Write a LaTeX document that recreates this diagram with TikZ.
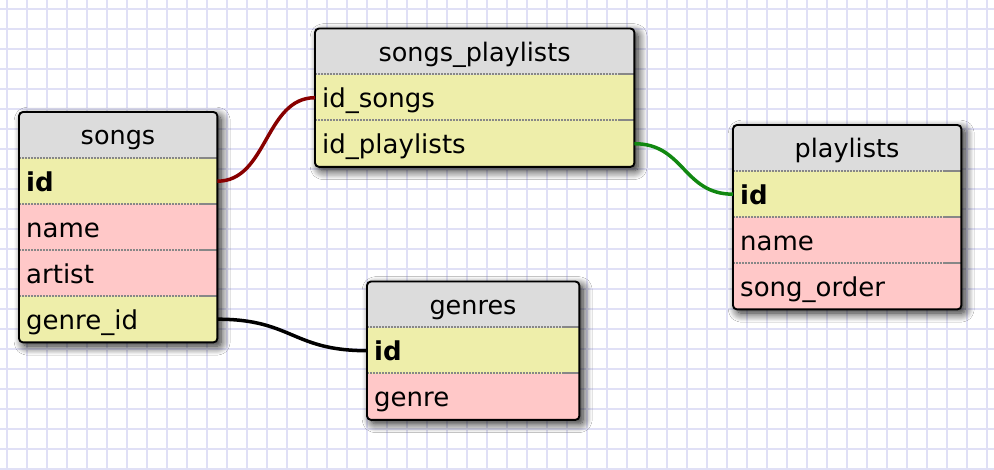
\documentclass[tikz,border=0pt]{standalone}
\usepackage{fontspec}
\setmainfont{DejaVu Sans}
\usetikzlibrary{shadows.blur}
\definecolor{gridc}{RGB}{224,224,246}
\definecolor{hdrc}{RGB}{220,220,220}
\definecolor{yelc}{RGB}{238,238,170}
\definecolor{pinkc}{RGB}{255,200,200}
\definecolor{sepc}{RGB}{135,135,135}
\definecolor{relred}{RGB}{136,0,0}
\definecolor{relgreen}{RGB}{17,136,17}
\tikzset{
 tblbox/.style={fill=hdrc, rounded corners=4pt, inner sep=0pt, anchor=north west,
   blur shadow={shadow xshift=4pt, shadow yshift=-4pt, shadow blur radius=9pt, shadow opacity=90, shadow blur steps=12}},
 border/.style={draw=black, line width=1.9pt, rounded corners=4pt},
 rowcell/.style={inner sep=0pt, minimum height=46pt, anchor=north west},
 rowtext/.style={inner sep=0pt, anchor=west, font=\fontsize{26}{30}\selectfont, text height=20pt, text depth=0pt},
 hdrtext/.style={inner sep=0pt, font=\fontsize{25.5}{30}\selectfont, text height=19.5pt, text depth=0pt},
 sepdot/.style={draw=sepc, line width=2pt, dash pattern=on 1.6pt off 1.4pt},
 sepsolid/.style={draw=sepc, line width=2pt},
 conn/.style={line width=3.5pt},
 gridline/.style={draw=gridc, line width=2pt}
}
\newcommand\dbrow[6]{%
 \node[rowcell, fill=#5, minimum width=#4pt] (#1) at (#2,#3) {};
 \node[rowtext] (#1-t) at ([xshift=7pt]#1.west) {#6};
 \draw[sepdot] (#2,#3) -- (#2+#4-16,#3);
 \draw[sepsolid] (#2+#4-16,#3) -- (#2+#4,#3);
}
\newcommand\dbtable[6]{%
 \node[tblbox, minimum width=#4pt, minimum height=#5pt] (#1) at (#2,#3) {};
 \node[hdrtext] (#1-title) at (#2+#4/2,#3+23) {#6};
}
\begin{document}
\begin{tikzpicture}[x=1pt,y=-1pt]
\useasboundingbox (0,0) rectangle (994,470);
\fill[white] (0,0) rectangle (994,470);
\foreach \i in {0,...,49} \draw[gridline] (6.7+20*\i,0) -- (6.7+20*\i,470);
\foreach \j in {0,...,23} \draw[gridline] (0,9.3+20*\j) -- (994,9.3+20*\j);

% songs
\dbtable{songs}{19}{112}{198}{230}{songs}
\begin{scope}
\clip[rounded corners=4pt] (songs.north west) rectangle (songs.south east);
\dbrow{songs-id}{19}{158}{198}{yelc}{\textbf{id}}
\dbrow{songs-name}{19}{204}{198}{pinkc}{name}
\dbrow{songs-artist}{19}{250}{198}{pinkc}{artist}
\dbrow{songs-genre}{19}{296}{198}{yelc}{genre\_id}
\end{scope}
\draw[border] (songs.north west) rectangle (songs.south east);

% songs_playlists
\dbtable{sp}{315}{28.5}{319}{138}{songs\_playlists}
\begin{scope}
\clip[rounded corners=4pt] (sp.north west) rectangle (sp.south east);
\dbrow{sp-ids}{315}{74.5}{319}{yelc}{id\_songs}
\dbrow{sp-idp}{315}{120.5}{319}{yelc}{id\_playlists}
\end{scope}
\draw[border] (sp.north west) rectangle (sp.south east);

% playlists
\dbtable{pl}{733}{125}{228}{184}{playlists}
\begin{scope}
\clip[rounded corners=4pt] (pl.north west) rectangle (pl.south east);
\dbrow{pl-id}{733}{171}{228}{yelc}{\textbf{id}}
\dbrow{pl-name}{733}{217}{228}{pinkc}{name}
\dbrow{pl-order}{733}{263}{228}{pinkc}{song\_order}
\end{scope}
\draw[border] (pl.north west) rectangle (pl.south east);

% genres
\dbtable{gen}{367}{281.5}{212}{138}{genres}
\begin{scope}
\clip[rounded corners=4pt] (gen.north west) rectangle (gen.south east);
\dbrow{gen-id}{367}{327.5}{212}{yelc}{\textbf{id}}
\dbrow{gen-genre}{367}{373.5}{212}{pinkc}{genre}
\end{scope}
\draw[border] (gen.north west) rectangle (gen.south east);

% relations
\draw[conn, relred] (songs-id.east) .. controls +(50,0) and +(-50,0) .. (sp-ids.west);
\draw[conn, relgreen] (sp-idp.east) .. controls +(50,0) and +(-50,0) .. (pl-id.west);
\draw[conn, black] (songs-genre.east) .. controls +(75,0) and +(-75,0) .. (gen-id.west);
\end{tikzpicture}
\end{document}
